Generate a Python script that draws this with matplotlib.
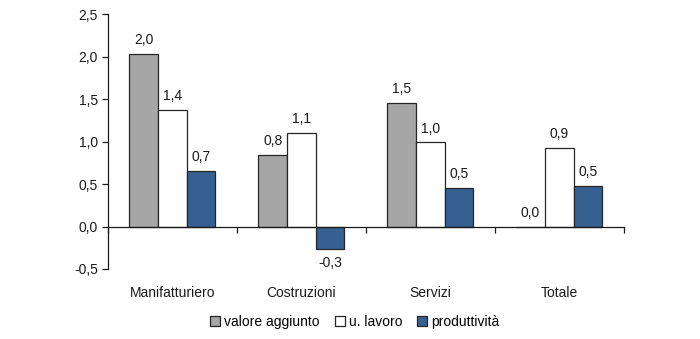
import matplotlib
matplotlib.use("Agg")
import matplotlib.pyplot as plt
import numpy as np
from matplotlib.ticker import FuncFormatter, MultipleLocator
from matplotlib.patches import Patch

fs = 10
plt.rcParams['font.family'] = ['Liberation Sans', 'DejaVu Sans']

categories = ["Manifatturiero", "Costruzioni", "Servizi", "Totale"]
series_names = ["valore aggiunto", "u. lavoro", "produttività"]
valore_aggiunto = [2.03, 0.84, 1.45, 0.0]
u_lavoro = [1.37, 1.10, 0.99, 0.93]
produttivita = [0.65, -0.26, 0.45, 0.48]
labels_va = ["2,0", "0,8", "1,5", "0,0"]
labels_ul = ["1,4", "1,1", "1,0", "0,9"]
labels_pr = ["0,7", "-0,3", "0,5", "0,5"]

colors = ["#A6A6A6", "#FFFFFF", "#376092"]
edge = "#262626"

fig = plt.figure(figsize=(7.0, 3.39), dpi=100)
ax = fig.add_axes([0.154, 0.2065, 0.737, 0.7515])

x = np.arange(len(categories))
w = 0.222
data = [valore_aggiunto, u_lavoro, produttivita]
labs = [labels_va, labels_ul, labels_pr]
for i, (vals, lab, c) in enumerate(zip(data, labs, colors)):
    bars = ax.bar(x + (i - 1) * w, vals, w, color=c, edgecolor=edge, linewidth=0.9, zorder=2)
    ax.bar_label(bars, labels=lab, padding=5, fontsize=fs, color="#1a1a1a")

ax.set_xlim(-0.5, len(categories) - 0.5)
ax.set_ylim(-0.5, 2.5)
ax.yaxis.set_major_locator(MultipleLocator(0.5))
ax.yaxis.set_major_formatter(FuncFormatter(lambda v, p: f"{v:.1f}".replace(".", ",")))
ax.tick_params(axis='y', labelsize=fs, length=4, width=0.9, colors="#1a1a1a", pad=3)

for s in ["top", "right"]:
    ax.spines[s].set_visible(False)
ax.spines["left"].set_linewidth(0.9)
ax.spines["left"].set_color("#1a1a1a")
ax.spines["bottom"].set_position(("data", 0))
ax.spines["bottom"].set_linewidth(0.9)
ax.spines["bottom"].set_color("#1a1a1a")
ax.set_xticks(np.arange(len(categories) + 1) - 0.5)
ax.set_xticklabels([])
ax.tick_params(axis='x', length=4, width=0.9, colors="#1a1a1a")

for xi, cat in zip(x, categories):
    ax.text(xi, -0.095, cat, transform=ax.get_xaxis_transform(), ha="center", va="center",
            fontsize=fs, color="#1a1a1a")

handles = [Patch(facecolor=c, edgecolor=edge, linewidth=0.9) for c in colors]
fig.legend(handles, series_names, loc="center", bbox_to_anchor=(0.507, 0.05), ncol=3,
           frameon=False, fontsize=fs, handlelength=0.7, handleheight=0.7,
           handletextpad=0.3, columnspacing=1.1)

fig.savefig("out.png", dpi=100)
